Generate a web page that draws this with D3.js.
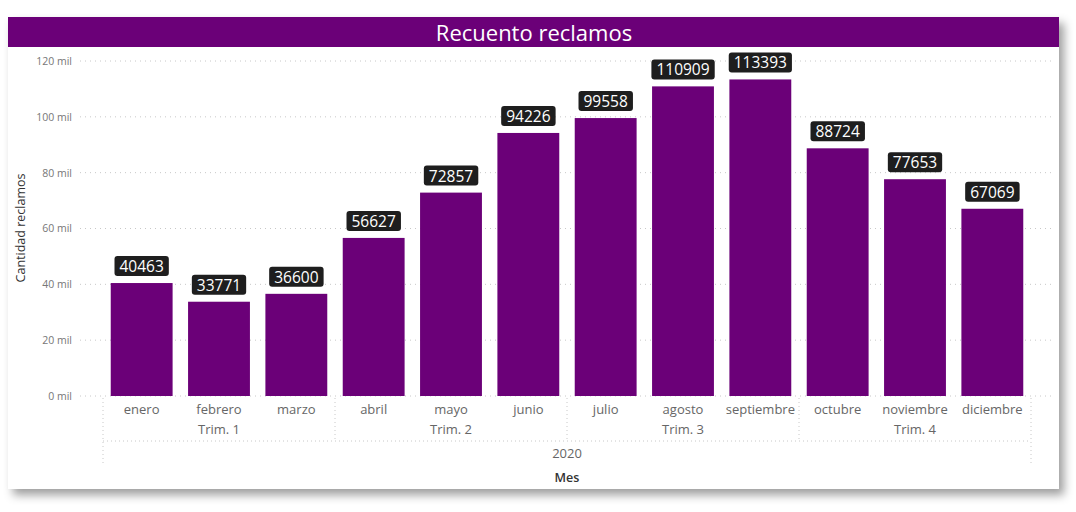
<!DOCTYPE html>
<html>
<head>
<meta charset="utf-8">
<script src="https://cdn.jsdelivr.net/npm/d3@7"></script>
<style>
  body { margin: 0; background: #fff; }
  svg { display: block; font-family: "Segoe UI", "Open Sans", "Noto Sans", sans-serif; }
</style>
</head>
<body>
<svg width="1076" height="512"></svg>
<script>
// datos
var meses = ["enero", "febrero", "marzo", "abril", "mayo", "junio", "julio",
             "agosto", "septiembre", "octubre", "noviembre", "diciembre"];
var reclamos = [40463, 33771, 36600, 56627, 72857, 94226, 99558,
                110909, 113393, 88724, 77653, 67069];
var trimestres = ["Trim. 1", "Trim. 2", "Trim. 3", "Trim. 4"];
var yTicks = [0, 20000, 40000, 60000, 80000, 100000, 120000];
var anio = "2020";

var purple = "#6b0078";

var svg = d3.select("svg");

var defs = svg.append("defs");
var f = defs.append("filter").attr("id", "shadow")
    .attr("x", "-5%").attr("y", "-5%").attr("width", "112%").attr("height", "120%");
f.append("feDropShadow").attr("dx", 5).attr("dy", 6).attr("stdDeviation", 5)
    .attr("flood-color", "#000").attr("flood-opacity", 0.38);

// tarjeta
svg.append("rect")
    .attr("x", 8).attr("y", 17).attr("width", 1051).attr("height", 472)
    .attr("fill", "#fff").attr("filter", "url(#shadow)");

svg.append("rect")
    .attr("x", 8).attr("y", 17).attr("width", 1051).attr("height", 30)
    .attr("fill", purple);

svg.append("text")
    .attr("x", 534).attr("y", 41)
    .attr("text-anchor", "middle")
    .attr("fill", "#fff")
    .attr("font-size", 22)
    .text("Recuento reclamos");

var x = d3.scaleBand().domain(meses).range([103, 1031])
    .paddingInner(0.2).paddingOuter(0.1);
var y = d3.scaleLinear().domain([0, 120000]).range([396, 61]);

// grid
svg.append("g").selectAll("line")
    .data(yTicks)
    .enter().append("line")
    .attr("x1", 80).attr("x2", 1052)
    .attr("y1", function (d) { return y(d); })
    .attr("y2", function (d) { return y(d); })
    .attr("stroke", "#c8c8c8")
    .attr("stroke-width", 1)
    .attr("stroke-dasharray", "1,4");

// eje y
var yAxis = svg.append("g")
    .attr("transform", "translate(72,0)")
    .call(d3.axisLeft(y).tickValues(yTicks).tickSize(0).tickPadding(0)
        .tickFormat(function (d) { return (d / 1000) + " mil"; }));
yAxis.select(".domain").remove();
yAxis.selectAll("text")
    .attr("fill", "#777")
    .attr("font-size", 10.5)
    .attr("font-family", "'Segoe UI', 'Open Sans', sans-serif");

svg.append("text")
    .attr("transform", "translate(25,228) rotate(-90)")
    .attr("text-anchor", "middle")
    .attr("fill", "#333")
    .attr("font-size", 12.5)
    .text("Cantidad reclamos");

// barras
var data = meses.map(function (m, i) { return {mes: m, valor: reclamos[i]}; });

svg.selectAll(".bar")
    .data(data)
    .enter().append("rect")
    .attr("class", "bar")
    .attr("x", function (d) { return x(d.mes); })
    .attr("y", function (d) { return y(d.valor); })
    .attr("width", x.bandwidth())
    .attr("height", function (d) { return y(0) - y(d.valor); })
    .attr("fill", purple);

// etiquetas
var lab = svg.selectAll(".lab")
    .data(data)
    .enter().append("g")
    .attr("class", "lab")
    .attr("transform", function (d) {
        return "translate(" + (x(d.mes) + x.bandwidth() / 2) + "," + (y(d.valor) - 6) + ")";
    });

lab.append("text")
    .attr("text-anchor", "middle")
    .attr("y", -5)
    .attr("fill", "#fff")
    .attr("font-size", 15.5)
    .text(function (d) { return d.valor; })
    .each(function () {
        var bb = this.getBBox();
        d3.select(this.parentNode).insert("rect", "text")
            .attr("x", bb.x - 5).attr("y", -21)
            .attr("width", bb.width + 10).attr("height", 20)
            .attr("rx", 3)
            .attr("fill", "#1e1e1e");
    });

// eje x jerarquico
var ax = svg.append("g");
var step = x.step();
var qx = [0, 1, 2, 3, 4].map(function (k) { return 103 + k * 3 * step; });

ax.selectAll(".vq")
    .data(qx)
    .enter().append("line")
    .attr("x1", function (d) { return d; })
    .attr("x2", function (d) { return d; })
    .attr("y1", 398)
    .attr("y2", function (d, i) { return (i === 0 || i === 4) ? 465 : 441; })
    .attr("stroke", "#c8c8c8")
    .attr("stroke-dasharray", "1,3");

ax.append("line")
    .attr("x1", 103).attr("x2", 1031).attr("y1", 441).attr("y2", 441)
    .attr("stroke", "#c8c8c8")
    .attr("stroke-dasharray", "1,3");

ax.selectAll(".mes")
    .data(meses)
    .enter().append("text")
    .attr("x", function (d) { return x(d) + x.bandwidth() / 2; })
    .attr("y", 414)
    .attr("text-anchor", "middle")
    .attr("fill", "#666")
    .attr("font-size", 13)
    .text(function (d) { return d; });

ax.selectAll(".trim")
    .data(trimestres)
    .enter().append("text")
    .attr("x", function (d, i) { return (qx[i] + qx[i + 1]) / 2; })
    .attr("y", 434)
    .attr("text-anchor", "middle")
    .attr("fill", "#666")
    .attr("font-size", 13)
    .text(function (d) { return d; });

ax.append("text")
    .attr("x", 567).attr("y", 458)
    .attr("text-anchor", "middle")
    .attr("fill", "#666")
    .attr("font-size", 13)
    .text(anio);

svg.append("text")
    .attr("x", 567).attr("y", 482)
    .attr("text-anchor", "middle")
    .attr("fill", "#333")
    .attr("font-size", 12.5)
    .attr("font-weight", 600)
    .text("Mes");
</script>
</body>
</html>
